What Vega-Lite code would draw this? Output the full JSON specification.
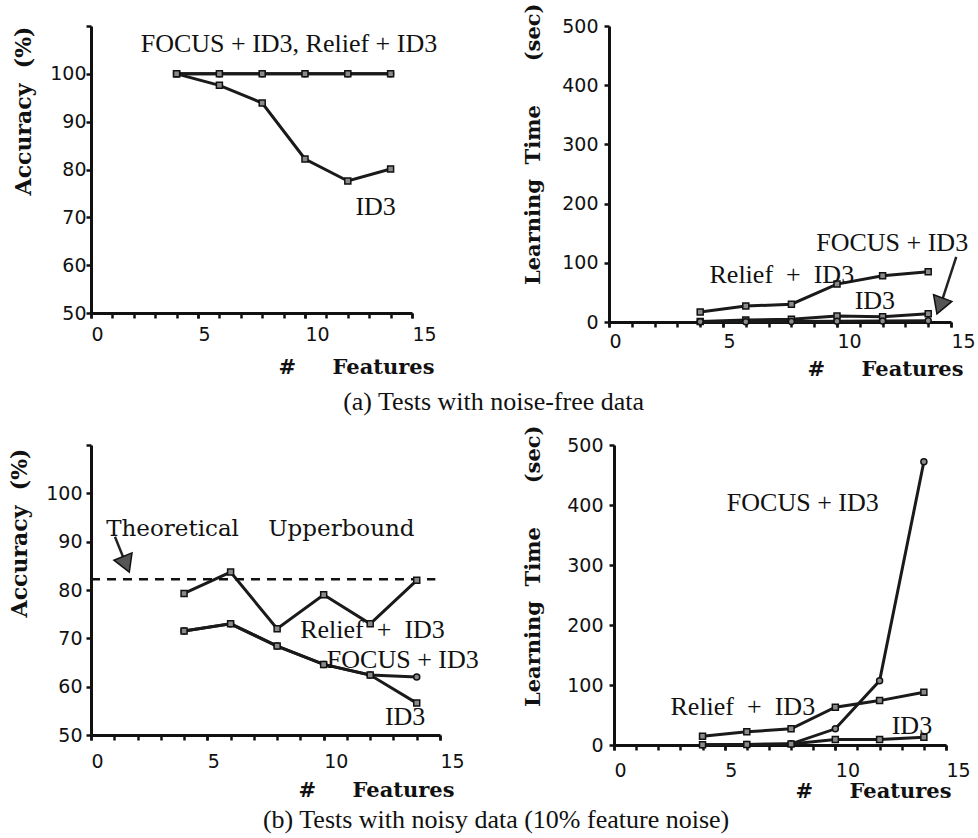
{
  "$schema": "https://vega.github.io/schema/vega-lite/v6.json",
  "background": "white",
  "padding": {"left": 8, "top": 3, "right": 5, "bottom": 5},
  "bounds": "full",
  "spacing": 10,
  "config": {
    "view": {"stroke": null},
    "axis": {
      "domainColor": "#111", "domainWidth": 3,
      "tickColor": "#111", "tickWidth": 2.5, "tickSize": 5,
      "grid": false,
      "labelFont": "DejaVu Sans", "labelFontSize": 19, "labelColor": "#111",
      "labelOverlap": false, "labelFlush": false, "labelBound": false,
      "titleFont": "DejaVu Serif", "titleFontSize": 21, "titleFontWeight": "bold", "titleColor": "#111"
    }
  },
  "vconcat": [
    {
      "bounds": "flush",
      "spacing": 197,
      "title": {"text": "(a) Tests with noise-free data", "orient": "bottom", "anchor": "middle", "frame": "bounds", "offset": 10, "dx": 0, "font": "Liberation Serif", "fontSize": 26, "fontWeight": "normal", "color": "#111"},
      "hconcat": [
        {
          "width": 321, "height": 287,
          "resolve": {"axis": {"x": "independent"}},
          "data": {"values": [
            {"s": "FOCUS + ID3", "x": 4, "y": 100}, {"s": "FOCUS + ID3", "x": 6, "y": 100}, {"s": "FOCUS + ID3", "x": 8, "y": 100}, {"s": "FOCUS + ID3", "x": 10, "y": 100}, {"s": "FOCUS + ID3", "x": 12, "y": 100}, {"s": "FOCUS + ID3", "x": 14, "y": 100},
            {"s": "Relief + ID3", "x": 4, "y": 100}, {"s": "Relief + ID3", "x": 6, "y": 100}, {"s": "Relief + ID3", "x": 8, "y": 100}, {"s": "Relief + ID3", "x": 10, "y": 100}, {"s": "Relief + ID3", "x": 12, "y": 100}, {"s": "Relief + ID3", "x": 14, "y": 100},
            {"s": "ID3", "x": 4, "y": 100}, {"s": "ID3", "x": 6, "y": 97.6}, {"s": "ID3", "x": 8, "y": 93.9}, {"s": "ID3", "x": 10, "y": 82.2}, {"s": "ID3", "x": 12, "y": 77.6}, {"s": "ID3", "x": 14, "y": 80.1}
          ]},
          "layer": [
            {
              "mark": {"type": "line", "color": "#1a1a1a", "strokeWidth": 3},
              "encoding": {
                "x": {"field": "x", "type": "quantitative", "scale": {"domain": [0, 15], "nice": false},
                  "axis": {"orient": "bottom", "values": [0, 5, 10, 15], "domain": false, "labelAlign": "left", "labelDx": -4, "labelPadding": 7,
                    "title": "#\u00a0\u00a0\u00a0\u00a0\u00a0Features", "titleX": 343, "titleY": 54, "titleAlign": "right", "titleBaseline": "middle"}},
                "y": {"field": "y", "type": "quantitative", "scale": {"domain": [50, 110], "nice": false, "zero": false},
                  "axis": {"values": [50,55,60,65,70,75,80,85,90,95,100,105,110], "labelExpr": "(datum.value % 10 == 0 && datum.value <= 100) ? datum.label : ''", "labelPadding": 0, "labelDy": 1,
                    "title": "Accuracy\u00a0\u00a0(%)", "titleFontSize": 22, "titleX": -68, "titleY": 0, "titleAngle": 270, "titleAlign": "right", "titleBaseline": "middle"}},
                "detail": {"field": "s"}
              }
            },
            {
              "mark": {"type": "point", "filled": true, "size": 36, "fill": "#8a8a8a", "stroke": "#111", "strokeWidth": 1.5, "opacity": 1},
              "encoding": {
                "x": {"field": "x", "type": "quantitative", "axis": {"orient": "bottom", "values": [0,1,2,3,4,5,6,7,8,9,10,11,12,13,14,15], "labels": false, "title": null}},
                "y": {"field": "y", "type": "quantitative"},
                "shape": {"field": "s", "scale": {"domain": ["FOCUS + ID3", "Relief + ID3", "ID3"], "range": ["circle", "square", "square"]}, "legend": null}
              }
            },
            {
              "data": {"values": [
                {"t": "FOCUS + ID3, Relief + ID3", "x": 9.25, "y": 106.2},
                {"t": "ID3", "x": 13.3, "y": 72.2}
              ]},
              "mark": {"type": "text", "font": "Liberation Serif", "fontSize": 26, "color": "#111", "align": "center", "baseline": "middle"},
              "encoding": {"x": {"field": "x", "type": "quantitative", "axis": null}, "y": {"field": "y", "type": "quantitative"}, "text": {"field": "t"}}
            }
          ]
        },
        {
          "width": 342, "height": 296,
          "resolve": {"axis": {"x": "independent"}},
          "data": {"values": [
            {"s": "Relief + ID3", "x": 4, "y": 17}, {"s": "Relief + ID3", "x": 6, "y": 27}, {"s": "Relief + ID3", "x": 8, "y": 30}, {"s": "Relief + ID3", "x": 10, "y": 64}, {"s": "Relief + ID3", "x": 12, "y": 78}, {"s": "Relief + ID3", "x": 14, "y": 85},
            {"s": "ID3", "x": 4, "y": 1}, {"s": "ID3", "x": 6, "y": 3.5}, {"s": "ID3", "x": 8, "y": 4.5}, {"s": "ID3", "x": 10, "y": 10}, {"s": "ID3", "x": 12, "y": 9}, {"s": "ID3", "x": 14, "y": 14},
            {"s": "FOCUS + ID3", "x": 4, "y": 0.3}, {"s": "FOCUS + ID3", "x": 6, "y": 0.5}, {"s": "FOCUS + ID3", "x": 8, "y": 0.8}, {"s": "FOCUS + ID3", "x": 10, "y": 1.2}, {"s": "FOCUS + ID3", "x": 12, "y": 1.6}, {"s": "FOCUS + ID3", "x": 14, "y": 2.2}
          ]},
          "layer": [
            {
              "mark": {"type": "line", "color": "#1a1a1a", "strokeWidth": 3},
              "encoding": {
                "x": {"field": "x", "type": "quantitative", "scale": {"domain": [0, 15], "nice": false},
                  "axis": {"orient": "bottom", "values": [0, 5, 10, 15], "domain": false, "labelAlign": "left", "labelDx": -3, "labelPadding": 5,
                    "title": "#\u00a0\u00a0\u00a0\u00a0\u00a0Features", "titleX": 354, "titleY": 47, "titleAlign": "right", "titleBaseline": "middle"}},
                "y": {"field": "y", "type": "quantitative", "scale": {"domain": [0, 500], "nice": false},
                  "axis": {"values": [0,50,100,150,200,250,300,350,400,450,500], "labelExpr": "datum.value % 100 == 0 ? datum.label : ''", "labelPadding": 6, "labelDy": 6,
                    "title": "Learning\u00a0\u00a0Time\u00a0\u00a0\u00a0\u00a0\u00a0\u00a0(sec)", "titleX": -76, "titleY": -23, "titleAngle": 270, "titleAlign": "right", "titleBaseline": "middle"}},
                "detail": {"field": "s"}
              }
            },
            {
              "mark": {"type": "point", "filled": true, "size": 36, "fill": "#8a8a8a", "stroke": "#111", "strokeWidth": 1.5, "opacity": 1},
              "encoding": {
                "x": {"field": "x", "type": "quantitative", "axis": {"orient": "bottom", "values": [0,1,2,3,4,5,6,7,8,9,10,11,12,13,14,15], "labels": false, "title": null}},
                "y": {"field": "y", "type": "quantitative"},
                "shape": {"field": "s", "scale": {"domain": ["FOCUS + ID3", "Relief + ID3", "ID3"], "range": ["circle", "square", "square"]}, "legend": null}
              }
            },
            {
              "data": {"values": [
                {"t": "FOCUS + ID3", "x": 12.42, "y": 133.4},
                {"t": "Relief\u00a0\u00a0+\u00a0\u00a0ID3", "x": 7.58, "y": 79.4},
                {"t": "ID3", "x": 11.66, "y": 35.8}
              ]},
              "mark": {"type": "text", "font": "Liberation Serif", "fontSize": 26, "color": "#111", "align": "center", "baseline": "middle"},
              "encoding": {"x": {"field": "x", "type": "quantitative", "axis": null}, "y": {"field": "y", "type": "quantitative"}, "text": {"field": "t"}}
            },
            {
              "data": {"values": [{"x": 15.23, "y": 110, "x2": 14.63, "y2": 38.9}]},
              "mark": {"type": "rule", "strokeWidth": 2.5, "color": "#222"},
              "encoding": {"x": {"field": "x", "type": "quantitative", "axis": null}, "y": {"field": "y", "type": "quantitative"}, "x2": {"field": "x2"}, "y2": {"field": "y2"}}
            },
            {
              "data": {"values": [{"x": 14.51, "y": 27}]},
              "mark": {"type": "point", "shape": "triangle-up", "angle": 200, "size": 380, "filled": true, "fill": "#555", "stroke": "#111", "strokeWidth": 1.5, "opacity": 1},
              "encoding": {"x": {"field": "x", "type": "quantitative", "axis": null}, "y": {"field": "y", "type": "quantitative"}}
            }
          ]
        }
      ]
    },
    {
      "bounds": "flush",
      "spacing": 174,
      "title": {"text": "(b) Tests with noisy data (10% feature noise)", "orient": "bottom", "anchor": "middle", "frame": "bounds", "offset": 6, "dx": 7, "font": "Liberation Serif", "fontSize": 26, "fontWeight": "normal", "color": "#111"},
      "hconcat": [
        {
          "width": 349, "height": 290,
          "resolve": {"axis": {"x": "independent"}},
          "data": {"values": [
            {"s": "Relief + ID3", "x": 4, "y": 79.3}, {"s": "Relief + ID3", "x": 6, "y": 83.7}, {"s": "Relief + ID3", "x": 8, "y": 72}, {"s": "Relief + ID3", "x": 10, "y": 79}, {"s": "Relief + ID3", "x": 12, "y": 73}, {"s": "Relief + ID3", "x": 14, "y": 82},
            {"s": "FOCUS + ID3", "x": 4, "y": 71.5}, {"s": "FOCUS + ID3", "x": 6, "y": 73}, {"s": "FOCUS + ID3", "x": 8, "y": 68.4}, {"s": "FOCUS + ID3", "x": 10, "y": 64.6}, {"s": "FOCUS + ID3", "x": 12, "y": 62.4}, {"s": "FOCUS + ID3", "x": 14, "y": 62},
            {"s": "ID3", "x": 4, "y": 71.5}, {"s": "ID3", "x": 6, "y": 73}, {"s": "ID3", "x": 8, "y": 68.4}, {"s": "ID3", "x": 10, "y": 64.6}, {"s": "ID3", "x": 12, "y": 62.4}, {"s": "ID3", "x": 14, "y": 56.6}
          ]},
          "layer": [
            {
              "mark": {"type": "line", "color": "#1a1a1a", "strokeWidth": 3},
              "encoding": {
                "x": {"field": "x", "type": "quantitative", "scale": {"domain": [0, 15], "nice": false},
                  "axis": {"orient": "bottom", "values": [0, 5, 10, 15], "domain": false, "labelAlign": "left", "labelDx": -4, "labelPadding": 12,
                    "title": "#\u00a0\u00a0\u00a0\u00a0\u00a0Features", "titleX": 363, "titleY": 55, "titleAlign": "right", "titleBaseline": "middle"}},
                "y": {"field": "y", "type": "quantitative", "scale": {"domain": [50, 110], "nice": false, "zero": false},
                  "axis": {"values": [50,55,60,65,70,75,80,85,90,95,100,105,110], "labelExpr": "(datum.value % 10 == 0 && datum.value <= 100) ? datum.label : ''", "labelPadding": 4, "labelDy": 2,
                    "title": "Accuracy\u00a0\u00a0(%)", "titleFontSize": 22, "titleX": -72, "titleY": 3, "titleAngle": 270, "titleAlign": "right", "titleBaseline": "middle"}},
                "detail": {"field": "s"}
              }
            },
            {
              "data": {"values": [{"x": 0, "x2": 14.8, "y": 82.2}]},
              "mark": {"type": "rule", "strokeDash": [9, 7], "strokeWidth": 2.5, "color": "#111"},
              "encoding": {"x": {"field": "x", "type": "quantitative", "axis": null}, "x2": {"field": "x2"}, "y": {"field": "y", "type": "quantitative"}}
            },
            {
              "mark": {"type": "point", "filled": true, "size": 36, "fill": "#8a8a8a", "stroke": "#111", "strokeWidth": 1.5, "opacity": 1},
              "encoding": {
                "x": {"field": "x", "type": "quantitative", "axis": {"orient": "bottom", "values": [0,1,2,3,4,5,6,7,8,9,10,11,12,13,14,15], "labels": false, "title": null}},
                "y": {"field": "y", "type": "quantitative"},
                "shape": {"field": "s", "scale": {"domain": ["FOCUS + ID3", "Relief + ID3", "ID3"], "range": ["circle", "square", "square"]}, "legend": null}
              }
            },
            {
              "data": {"values": [
                {"t": "Relief\u00a0\u00a0+\u00a0\u00a0ID3", "x": 12.1, "y": 71.7},
                {"t": "FOCUS + ID3", "x": 13.4, "y": 65.5},
                {"t": "ID3", "x": 13.5, "y": 53.7}
              ]},
              "mark": {"type": "text", "font": "Liberation Serif", "fontSize": 26, "color": "#111", "align": "center", "baseline": "middle"},
              "encoding": {"x": {"field": "x", "type": "quantitative", "axis": null}, "y": {"field": "y", "type": "quantitative"}, "text": {"field": "t"}}
            },
            {
              "data": {"values": [{"t": "Theoretical\u00a0\u00a0\u00a0\u00a0Upperbound", "x": 7.28, "y": 92.7}]},
              "mark": {"type": "text", "font": "DejaVu Serif", "fontSize": 23, "color": "#111", "align": "center", "baseline": "middle"},
              "encoding": {"x": {"field": "x", "type": "quantitative", "axis": null}, "y": {"field": "y", "type": "quantitative"}, "text": {"field": "t"}}
            },
            {
              "data": {"values": [{"x": 1.03, "y": 91.0, "x2": 1.39, "y2": 86.7}]},
              "mark": {"type": "rule", "strokeWidth": 2.5, "color": "#222"},
              "encoding": {"x": {"field": "x", "type": "quantitative", "axis": null}, "y": {"field": "y", "type": "quantitative"}, "x2": {"field": "x2"}, "y2": {"field": "y2"}}
            },
            {
              "data": {"values": [{"x": 1.51, "y": 85.3}]},
              "mark": {"type": "point", "shape": "triangle-up", "angle": 158, "size": 380, "filled": true, "fill": "#555", "stroke": "#111", "strokeWidth": 1.5, "opacity": 1},
              "encoding": {"x": {"field": "x", "type": "quantitative", "axis": null}, "y": {"field": "y", "type": "quantitative"}}
            }
          ]
        },
        {
          "width": 332, "height": 300,
          "resolve": {"axis": {"x": "independent"}},
          "data": {"values": [
            {"s": "Relief + ID3", "x": 4, "y": 14.5}, {"s": "Relief + ID3", "x": 6, "y": 22}, {"s": "Relief + ID3", "x": 8, "y": 27}, {"s": "Relief + ID3", "x": 10, "y": 63}, {"s": "Relief + ID3", "x": 12, "y": 74}, {"s": "Relief + ID3", "x": 14, "y": 88},
            {"s": "FOCUS + ID3", "x": 4, "y": 0.5}, {"s": "FOCUS + ID3", "x": 6, "y": 1}, {"s": "FOCUS + ID3", "x": 8, "y": 2}, {"s": "FOCUS + ID3", "x": 10, "y": 27}, {"s": "FOCUS + ID3", "x": 12, "y": 107}, {"s": "FOCUS + ID3", "x": 14, "y": 472},
            {"s": "ID3", "x": 4, "y": 0.5}, {"s": "ID3", "x": 6, "y": 1}, {"s": "ID3", "x": 8, "y": 1.7}, {"s": "ID3", "x": 10, "y": 9}, {"s": "ID3", "x": 12, "y": 9}, {"s": "ID3", "x": 14, "y": 13}
          ]},
          "layer": [
            {
              "mark": {"type": "line", "color": "#1a1a1a", "strokeWidth": 3},
              "encoding": {
                "x": {"field": "x", "type": "quantitative", "scale": {"domain": [0, 15], "nice": false},
                  "axis": {"orient": "bottom", "values": [0, 5, 10, 15], "domain": false, "labelAlign": "left", "labelDx": -3, "labelPadding": 11,
                    "title": "#\u00a0\u00a0\u00a0\u00a0\u00a0Features", "titleX": 337, "titleY": 46, "titleAlign": "right", "titleBaseline": "middle"}},
                "y": {"field": "y", "type": "quantitative", "scale": {"domain": [0, 500], "nice": false},
                  "axis": {"values": [0,50,100,150,200,250,300,350,400,450,500], "labelExpr": "datum.value % 100 == 0 ? datum.label : ''", "labelPadding": 6, "labelDy": 5,
                    "title": "Learning\u00a0\u00a0Time\u00a0\u00a0\u00a0\u00a0\u00a0\u00a0(sec)", "titleX": -81, "titleY": -20, "titleAngle": 270, "titleAlign": "right", "titleBaseline": "middle"}},
                "detail": {"field": "s"}
              }
            },
            {
              "mark": {"type": "point", "filled": true, "size": 36, "fill": "#8a8a8a", "stroke": "#111", "strokeWidth": 1.5, "opacity": 1},
              "encoding": {
                "x": {"field": "x", "type": "quantitative", "axis": {"orient": "bottom", "values": [0,1,2,3,4,5,6,7,8,9,10,11,12,13,14,15], "labels": false, "title": null}},
                "y": {"field": "y", "type": "quantitative"},
                "shape": {"field": "s", "scale": {"domain": ["FOCUS + ID3", "Relief + ID3", "ID3"], "range": ["circle", "square", "square"]}, "legend": null}
              }
            },
            {
              "data": {"values": [
                {"t": "FOCUS + ID3", "x": 8.53, "y": 403},
                {"t": "Relief\u00a0\u00a0+\u00a0\u00a0ID3", "x": 5.82, "y": 62.8},
                {"t": "ID3", "x": 13.46, "y": 31}
              ]},
              "mark": {"type": "text", "font": "Liberation Serif", "fontSize": 26, "color": "#111", "align": "center", "baseline": "middle"},
              "encoding": {"x": {"field": "x", "type": "quantitative", "axis": null}, "y": {"field": "y", "type": "quantitative"}, "text": {"field": "t"}}
            }
          ]
        }
      ]
    }
  ]
}
